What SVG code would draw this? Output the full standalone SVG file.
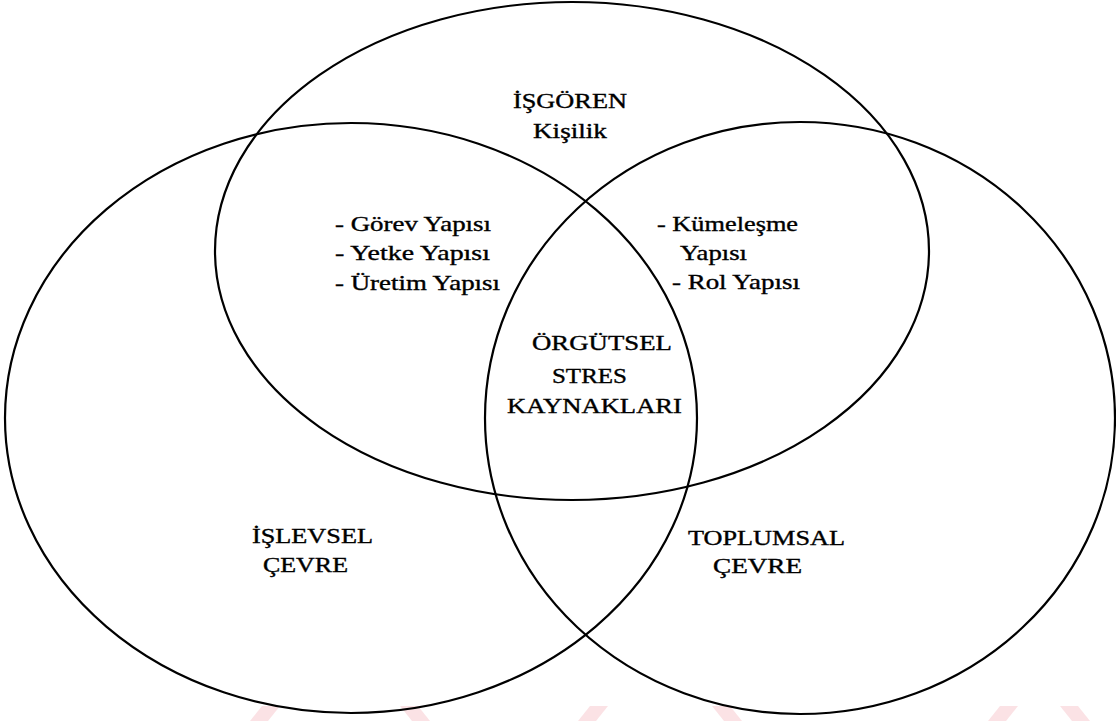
<svg xmlns="http://www.w3.org/2000/svg" width="1116" height="721" viewBox="0 0 1116 721">
<style>
.ring{fill:none;stroke:#000;stroke-width:2.2}
.t{font-family:"Liberation Serif","Times New Roman",serif;font-size:20px;fill:#000;stroke:#000;stroke-width:0.35}
.wm{fill:#fbe2e5}
</style>
<rect width="1116" height="721" fill="#fff"/>
<g id="watermark">
<polygon class="wm" points="262,706 280,706 268,721 250,721"/>
<polygon class="wm" points="400,706 418,706 430,721 412,721"/>
<polygon class="wm" points="590,706 608,706 596,721 578,721"/>
<polygon class="wm" points="712,706 730,706 742,721 724,721"/>
<polygon class="wm" points="1000,706 1018,706 1006,721 988,721"/>
<polygon class="wm" points="1060,706 1078,706 1090,721 1072,721"/>
</g>
<g id="isgoren">
<ellipse class="ring" cx="572" cy="251" rx="357" ry="249"/>
<g transform="scale(1.3,1)">
<text class="t" x="394.6" y="108" textLength="87.7" lengthAdjust="spacingAndGlyphs">İŞGÖREN</text>
<text class="t" x="410" y="138" textLength="56.9" lengthAdjust="spacingAndGlyphs">Kişilik</text>
</g>
</g>
<g id="islevsel">
<ellipse class="ring" cx="351" cy="418" rx="346" ry="295"/>
<g transform="scale(1.3,1)">
<text class="t" x="193.8" y="543" textLength="93.1" lengthAdjust="spacingAndGlyphs">İŞLEVSEL</text>
<text class="t" x="202.3" y="572" textLength="65.4" lengthAdjust="spacingAndGlyphs">ÇEVRE</text>
</g>
</g>
<g id="toplumsal">
<ellipse class="ring" cx="800" cy="418" rx="315" ry="296"/>
<g transform="scale(1.3,1)">
<text class="t" x="529.2" y="545" textLength="120.8" lengthAdjust="spacingAndGlyphs">TOPLUMSAL</text>
<text class="t" x="548.5" y="573" textLength="68.5" lengthAdjust="spacingAndGlyphs">ÇEVRE</text>
</g>
</g>
<g id="overlap-left" transform="scale(1.3,1)">
<text class="t" x="257.7" y="231" textLength="120" lengthAdjust="spacingAndGlyphs">- Görev Yapısı</text>
<text class="t" x="257.7" y="260" textLength="119.2" lengthAdjust="spacingAndGlyphs">- Yetke Yapısı</text>
<text class="t" x="257.7" y="290" textLength="126.9" lengthAdjust="spacingAndGlyphs">- Üretim Yapısı</text>
</g>
<g id="overlap-right" transform="scale(1.3,1)">
<text class="t" x="505.4" y="231" textLength="108.5" lengthAdjust="spacingAndGlyphs">- Kümeleşme</text>
<text class="t" x="523.1" y="260" textLength="51.5" lengthAdjust="spacingAndGlyphs">Yapısı</text>
<text class="t" x="516.9" y="289" textLength="98.5" lengthAdjust="spacingAndGlyphs">- Rol Yapısı</text>
</g>
<g id="center" transform="scale(1.3,1)">
<text class="t" x="409.2" y="350" textLength="107.7" lengthAdjust="spacingAndGlyphs">ÖRGÜTSEL</text>
<text class="t" x="424.6" y="383" textLength="57.7" lengthAdjust="spacingAndGlyphs">STRES</text>
<text class="t" x="390" y="413" textLength="134.6" lengthAdjust="spacingAndGlyphs">KAYNAKLARI</text>
</g>
</svg>
